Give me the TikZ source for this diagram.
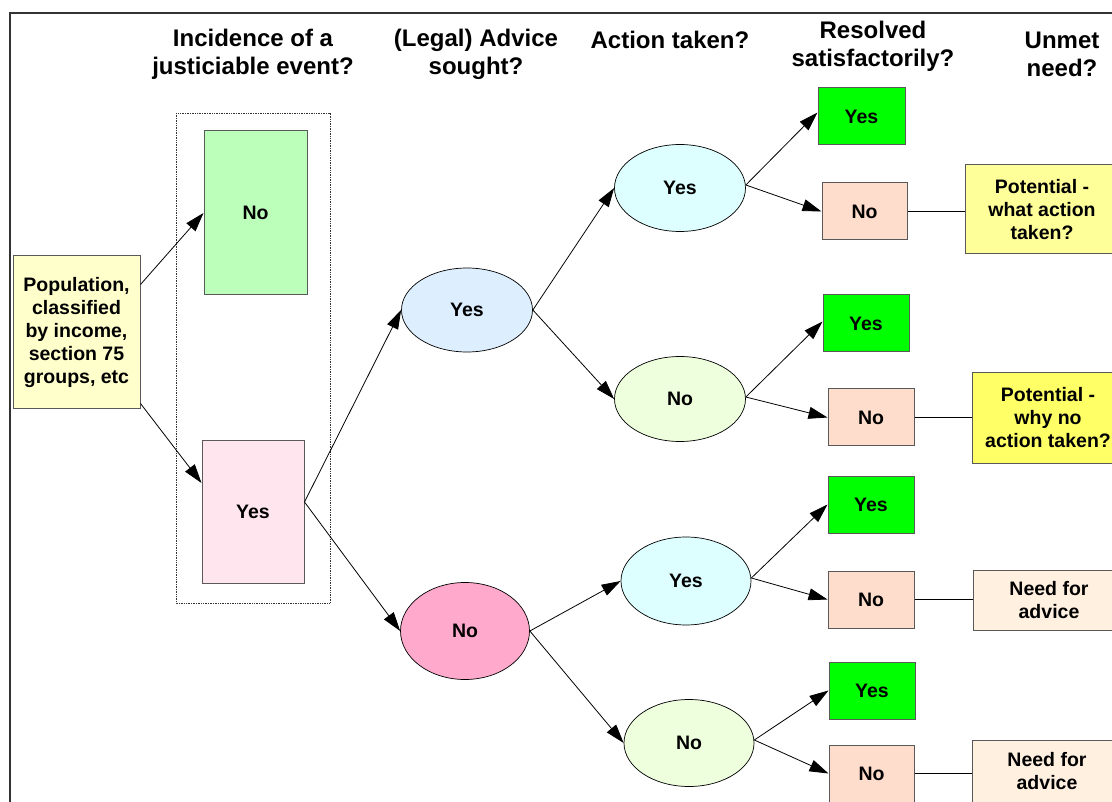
\documentclass[tikz,border=0pt]{standalone}
\usepackage{fontspec}
\setmainfont{Liberation Sans}
\usetikzlibrary{arrows.meta,shapes.geometric}
\definecolor{popfill}{HTML}{FFFFCC}
\definecolor{incno}{HTML}{BBFFBB}
\definecolor{incyes}{HTML}{FFE6EE}
\definecolor{advyes}{HTML}{DDEEFF}
\definecolor{advno}{HTML}{FFAACC}
\definecolor{actyes}{HTML}{DDFFFF}
\definecolor{actno}{HTML}{EEFFDD}
\definecolor{resyes}{HTML}{00FF00}
\definecolor{resno}{HTML}{FFDDCC}
\definecolor{unmeta}{HTML}{FFFF99}
\definecolor{unmetb}{HTML}{FFFF66}
\definecolor{unmetc}{HTML}{FFF0E0}
\tikzset{
  nodefont/.style={font=\fontsize{19.5}{23}\selectfont\bfseries},
  headfont/.style={font=\fontsize{24}{28}\selectfont\bfseries, align=center},
  box/.style={draw=black!65, line width=1pt, nodefont, align=center, inner sep=0pt},
  oval/.style={ellipse, draw=black, line width=0.7pt, nodefont, inner sep=0pt},
  arr/.style={-{Triangle[length=19pt,width=12pt]}, line width=0.8pt},
  link/.style={line width=0.8pt},
}
\begin{document}
\begin{tikzpicture}[x=1pt,y=-1pt]
\useasboundingbox (0,0) rectangle (1112,802);
\clip (0,0) rectangle (1112,802);
\draw[line width=2pt, black!80] (10,13) rectangle (1130,830);
% headers
\node[headfont] (h1) at (253,54) {Incidence of a\\justiciable event?};
\node[headfont] (h2) at (476,54) {(Legal) Advice\\sought?};
\node[headfont] (h3) at (670,40) {Action taken?};
\node[headfont] (h4) at (873,46) {Resolved\\satisfactorily?};
\node[headfont] (h5) at (1062,54) {Unmet\\need?};
% dotted group
\draw[densely dotted, line width=0.7pt, black!80] (176,113) rectangle (330,603);
% nodes
\node[box, fill=popfill, minimum width=127, minimum height=153] (pop) at (76.5,332.5) {\raisebox{-4pt}{\parbox{120pt}{\centering Population,\\classified\\by income,\\section 75\\groups, etc}}};
\node[box, fill=incno, minimum width=103, minimum height=164] (incNo) at (255.5,213) {No};
\node[box, fill=incyes, minimum width=102, minimum height=142] (incYes) at (253,512) {Yes};
\node[oval, fill=advyes, minimum width=131, minimum height=84] (advYes) at (467,310) {Yes};
\node[oval, fill=advno, minimum width=129, minimum height=97] (advNo) at (465,631) {No};
\node[oval, fill=actyes, minimum width=131, minimum height=87] (actYes1) at (680,188) {Yes};
\node[oval, fill=actno, minimum width=131, minimum height=85] (actNo1) at (680,399) {No};
\node[oval, fill=actyes, minimum width=130, minimum height=88] (actYes2) at (686,581) {Yes};
\node[oval, fill=actno, minimum width=130, minimum height=87] (actNo2) at (689,743) {No};
\node[box, fill=resyes, minimum width=87, minimum height=57] (r1y) at (861.5,116.5) {Yes};
\node[box, fill=resno, minimum width=85, minimum height=57] (r1n) at (864.5,211.5) {No};
\node[box, fill=resyes, minimum width=86, minimum height=57] (r2y) at (866,323.5) {Yes};
\node[box, fill=resno, minimum width=86, minimum height=57] (r2n) at (871,417.5) {No};
\node[box, fill=resyes, minimum width=86, minimum height=57] (r3y) at (871,504.5) {Yes};
\node[box, fill=resno, minimum width=86, minimum height=57] (r3n) at (871,599.5) {No};
\node[box, fill=resyes, minimum width=86, minimum height=57] (r4y) at (872,690.5) {Yes};
\node[box, fill=resno, minimum width=85, minimum height=57] (r4n) at (871.5,773.5) {No};
\node[box, fill=unmeta, minimum width=154, minimum height=89] (u1) at (1042,209.5) {\raisebox{-3pt}{\parbox{150pt}{\centering Potential -\\what action\\taken?}}};
\node[box, fill=unmetb, minimum width=152, minimum height=90] (u2) at (1048,418) {\raisebox{-3pt}{\parbox{150pt}{\centering Potential -\\why no\\action taken?}}};
\node[box, fill=unmetc, minimum width=152, minimum height=60] (u3) at (1049,600) {\raisebox{-2pt}{\parbox{150pt}{\centering Need for\\advice}}};
\node[box, fill=unmetc, minimum width=150, minimum height=62] (u4) at (1047,771) {\raisebox{-2pt}{\parbox{148pt}{\centering Need for\\advice}}};
% connectors
\coordinate (incOut) at ([yshift=10pt]incYes.east);
\draw[arr] ([yshift=-29pt]pop.north east) -- (incNo.west);
\draw[arr] ([yshift=6pt]pop.south east) -- ([yshift=29pt]incYes.west);
\draw[arr] (incOut) -- (advYes.west);
\draw[arr] (incOut) -- (advNo.west);
\draw[arr] (advYes.east) -- (actYes1.west);
\draw[arr] (advYes.east) -- (actNo1.west);
\draw[arr] (advNo.east) -- (actYes2.west);
\draw[arr] (advNo.east) -- (actNo2.west);
\draw[arr] ([yshift=3pt]actYes1.east) -- ([yshift=4pt]r1y.west);
\draw[arr] ([yshift=3pt]actYes1.east) -- (r1n.west);
\draw[arr] ([yshift=2pt]actNo1.east) -- ([yshift=2pt]r2y.west);
\draw[arr] ([yshift=2pt]actNo1.east) -- (r2n.west);
\draw[arr] ([yshift=3pt]actYes2.east) -- (r3y.west);
\draw[arr] ([yshift=3pt]actYes2.east) -- (r3n.west);
\draw[arr] ([yshift=3pt]actNo2.east) -- (r4y.west);
\draw[arr] ([yshift=3pt]actNo2.east) -- (r4n.west);
\draw[link] (r1n.east) -- (r1n.east -| u1.west);
\draw[link] (r2n.east) -- (r2n.east -| u2.west);
\draw[link] (r3n.east) -- (r3n.east -| u3.west);
\draw[link] (r4n.east) -- (r4n.east -| u4.west);
\end{tikzpicture}
\end{document}
